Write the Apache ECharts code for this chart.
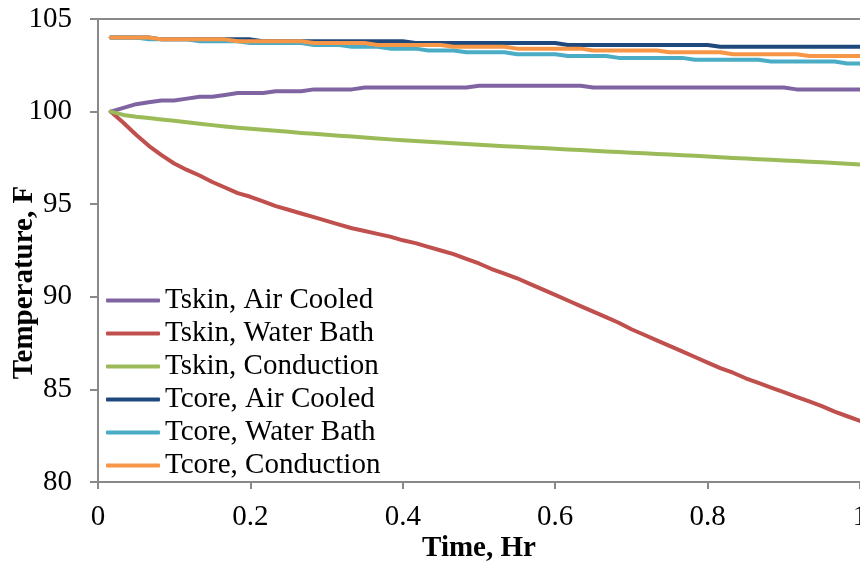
<!DOCTYPE html>
<html>
<head>
<meta charset="utf-8">
<script src="https://cdn.jsdelivr.net/npm/echarts@6/dist/echarts.min.js"></script>
<style>
  html, body { margin: 0; padding: 0; background: #fff; }
  #chart { width: 860px; height: 563px; }
</style>
</head>
<body>
<div id="chart"></div>
<script>
  // sample times, minutes after start (plotted in hours)
  const minutes = [
    1, 2, 3, 4, 5, 6, 7, 8, 9, 10,
    11, 12, 13, 14, 15, 16, 17, 18, 19, 20,
    21, 22, 23, 24, 25, 26, 27, 28, 29, 30,
    31, 32, 33, 34, 35, 36, 37, 38, 39, 40,
    41, 42, 43, 44, 45, 46, 47, 48, 49, 50,
    51, 52, 53, 54, 55, 56, 57, 58, 59, 60
  ];

  const tskinAir = [
    100.0, 100.2, 100.4, 100.5, 100.6, 100.6, 100.7, 100.8, 100.8, 100.9,
    101.0, 101.0, 101.0, 101.1, 101.1, 101.1, 101.2, 101.2, 101.2, 101.2,
    101.3, 101.3, 101.3, 101.3, 101.3, 101.3, 101.3, 101.3, 101.3, 101.4,
    101.4, 101.4, 101.4, 101.4, 101.4, 101.4, 101.4, 101.4, 101.3, 101.3,
    101.3, 101.3, 101.3, 101.3, 101.3, 101.3, 101.3, 101.3, 101.3, 101.3,
    101.3, 101.3, 101.3, 101.3, 101.2, 101.2, 101.2, 101.2, 101.2, 101.2
  ];
  const tskinWater = [
    100.0, 99.4, 98.75, 98.15, 97.65, 97.2, 96.85, 96.55, 96.2, 95.9,
    95.6, 95.4, 95.15, 94.9, 94.7, 94.5, 94.3, 94.1, 93.9, 93.7,
    93.55, 93.4, 93.25, 93.05, 92.9, 92.7, 92.5, 92.3, 92.05, 91.8,
    91.5, 91.25, 91.0, 90.7, 90.4, 90.1, 89.8, 89.5, 89.2, 88.9,
    88.6, 88.25, 87.95, 87.65, 87.35, 87.05, 86.75, 86.45, 86.15, 85.9,
    85.6, 85.35, 85.1, 84.85, 84.6, 84.35, 84.1, 83.8, 83.55, 83.3
  ];
  const tskinCond = [
    100.0, 99.82, 99.72, 99.65, 99.57, 99.5, 99.42, 99.34, 99.27, 99.2,
    99.13, 99.07, 99.02, 98.96, 98.91, 98.85, 98.8, 98.75, 98.7, 98.65,
    98.6, 98.55, 98.5, 98.45, 98.41, 98.37, 98.33, 98.29, 98.25, 98.21,
    98.17, 98.13, 98.1, 98.06, 98.03, 97.99, 97.96, 97.92, 97.89, 97.85,
    97.82, 97.78, 97.75, 97.71, 97.68, 97.64, 97.61, 97.57, 97.54, 97.5,
    97.47, 97.43, 97.4, 97.36, 97.33, 97.29, 97.26, 97.22, 97.19, 97.15
  ];
  const tcoreAir = [
    104.0, 104.0, 104.0, 104.0, 103.9, 103.9, 103.9, 103.9, 103.9, 103.9,
    103.9, 103.9, 103.8, 103.8, 103.8, 103.8, 103.8, 103.8, 103.8, 103.8,
    103.8, 103.8, 103.8, 103.8, 103.7, 103.7, 103.7, 103.7, 103.7, 103.7,
    103.7, 103.7, 103.7, 103.7, 103.7, 103.7, 103.6, 103.6, 103.6, 103.6,
    103.6, 103.6, 103.6, 103.6, 103.6, 103.6, 103.6, 103.6, 103.5, 103.5,
    103.5, 103.5, 103.5, 103.5, 103.5, 103.5, 103.5, 103.5, 103.5, 103.5
  ];
  const tcoreWater = [
    104.0, 104.0, 104.0, 103.9, 103.9, 103.9, 103.9, 103.8, 103.8, 103.8,
    103.8, 103.7, 103.7, 103.7, 103.7, 103.7, 103.6, 103.6, 103.6, 103.5,
    103.5, 103.5, 103.4, 103.4, 103.4, 103.3, 103.3, 103.3, 103.2, 103.2,
    103.2, 103.2, 103.1, 103.1, 103.1, 103.1, 103.0, 103.0, 103.0, 103.0,
    102.9, 102.9, 102.9, 102.9, 102.9, 102.9, 102.8, 102.8, 102.8, 102.8,
    102.8, 102.8, 102.7, 102.7, 102.7, 102.7, 102.7, 102.7, 102.6, 102.6
  ];
  const tcoreCond = [
    104.0, 104.0, 104.0, 104.0, 103.9, 103.9, 103.9, 103.9, 103.9, 103.9,
    103.8, 103.8, 103.8, 103.8, 103.8, 103.8, 103.7, 103.7, 103.7, 103.7,
    103.7, 103.6, 103.6, 103.6, 103.6, 103.6, 103.6, 103.5, 103.5, 103.5,
    103.5, 103.5, 103.4, 103.4, 103.4, 103.4, 103.4, 103.4, 103.3, 103.3,
    103.3, 103.3, 103.3, 103.3, 103.2, 103.2, 103.2, 103.2, 103.2, 103.1,
    103.1, 103.1, 103.1, 103.1, 103.1, 103.0, 103.0, 103.0, 103.0, 103.0
  ];

  const seriesNames = [
    'Tskin, Air Cooled', 'Tskin, Water Bath', 'Tskin, Conduction',
    'Tcore, Air Cooled', 'Tcore, Water Bath', 'Tcore, Conduction'
  ];
  const seriesValues = [tskinAir, tskinWater, tskinCond, tcoreAir, tcoreWater, tcoreCond];
  const colors = ['#8064A2', '#C0504D', '#9BBB59', '#1F497D', '#4BACC6', '#F79646'];

  const FONT = '"Liberation Serif", "Times New Roman", serif';
  const AXIS_GREY = '#898989';

  const chart = echarts.init(document.getElementById('chart'));

  chart.setOption({
    animation: false,
    color: colors,
    grid: {
      left: 98,
      right: 0,
      top: 19,
      bottom: 81,
      outerBoundsMode: 'none'
    },
    legend: {
      orient: 'vertical',
      left: 106,
      top: 286,
      padding: 0,
      itemGap: 4,
      itemWidth: 54,
      itemHeight: 4,
      icon: 'roundRect',
      textStyle: {
        fontFamily: FONT,
        fontSize: 29,
        lineHeight: 29,
        color: '#000'
      },
      data: seriesNames
    },
    xAxis: [
      {
        type: 'value',
        min: 0,
        max: 1,
        interval: 0.2,
        name: 'Time, Hr',
        nameLocation: 'middle',
        nameGap: 52,
        nameMoveOverlap: false,
        nameTextStyle: {
          fontFamily: FONT,
          fontWeight: 'bold',
          fontSize: 29,
          color: '#000'
        },
        axisLine: { lineStyle: { color: AXIS_GREY, width: 2 } },
        axisTick: { show: true, length: 7, lineStyle: { color: AXIS_GREY, width: 2 } },
        axisLabel: { fontFamily: FONT, fontSize: 29, color: '#000', margin: 21 },
        splitLine: { show: false }
      },
      {
        // the top border line of the plot area
        type: 'value',
        position: 'top',
        min: 0,
        max: 1,
        axisLine: { show: true, lineStyle: { color: AXIS_GREY, width: 2 } },
        axisTick: { show: false },
        axisLabel: { show: false },
        splitLine: { show: false }
      }
    ],
    yAxis: {
      type: 'value',
      min: 80,
      max: 105,
      interval: 5,
      name: 'Temperature, F',
      nameLocation: 'middle',
      nameGap: 59,
      nameMoveOverlap: false,
      nameTextStyle: {
        fontFamily: FONT,
        fontWeight: 'bold',
        fontSize: 29,
        color: '#000',
        padding: [0, 64, 0, 0]
      },
      axisLine: { show: true, lineStyle: { color: AXIS_GREY, width: 2 } },
      axisTick: { show: true, length: 8, lineStyle: { color: AXIS_GREY, width: 2 } },
      axisLabel: { fontFamily: FONT, fontSize: 29, color: '#000', margin: 26 },
      splitLine: { show: false }
    },
    series: seriesValues.map((vals, i) => ({
      name: seriesNames[i],
      type: 'line',
      xAxisIndex: 0,
      showSymbol: false,
      symbol: 'none',
      lineStyle: { width: 4, cap: 'round', join: 'round' },
      data: vals.map((v, k) => [minutes[k] / 60, v])
    }))
  });
</script>
</body>
</html>
